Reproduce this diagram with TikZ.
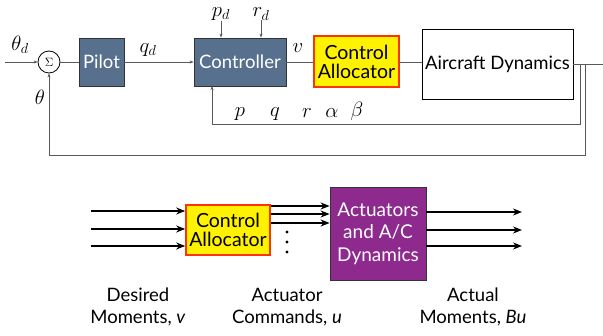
\documentclass[tikz,border=0pt]{standalone}
\usepackage{fontspec}
\setmainfont{Lato}
\usetikzlibrary{arrows.meta,calc}
\definecolor{slate}{HTML}{56708E}
\definecolor{allocred}{HTML}{FF3300}
\definecolor{purp}{HTML}{8E2A8E}
\definecolor{lin}{gray}{0.35}
\tikzset{
  blk/.style={draw=black!80, line width=0.8pt, fill=slate, text=white, inner sep=0pt, font=\fontsize{18.5}{20}\selectfont},
  alloc/.style={draw=allocred, line width=1.6pt, fill=yellow, text=black, inner sep=0pt, align=center, font=\fontsize{19.5}{21}\selectfont},
  plant/.style={draw=black, line width=0.8pt, fill=white, inner sep=0pt, font=\fontsize{18.5}{20}\selectfont},
  act/.style={draw=black!80, line width=0.8pt, fill=purp, text=white, inner sep=0pt, align=center, font=\fontsize{19}{22.5}\selectfont},
  sig/.style={line width=0.6pt, draw=lin},
  sigar/.style={sig, -{Stealth[length=4pt,width=3pt]}},
  fat/.style={line width=1.8pt, -{Stealth[length=9pt,width=7pt]}},
  mlab/.style={inner sep=0pt, font=\fontsize{20}{22}\selectfont},
  captxt/.style={align=center, inner sep=0pt, font=\fontsize{18.5}{21.5}\selectfont},
}
\begin{document}
\begin{tikzpicture}[x=1pt,y=-1pt]
\useasboundingbox (0,0) rectangle (603,336);
% top loop
\coordinate (in) at (5,62);
\node[draw=black, line width=0.8pt, circle, minimum size=22pt, inner sep=0pt, font=\fontsize{13}{13}\selectfont] (sum) at (49,62) {$\Sigma$};
\node[blk, minimum width=45pt, minimum height=48pt] (pilot) at (101.5,62) {Pilot};
\node[blk, minimum width=92pt, minimum height=48pt] (ctrl) at (240,62) {Controller};
\node[alloc, minimum width=85pt, minimum height=51pt] (ca) at (356.5,61.5) {Control\\[-2pt]Allocator};
\node[plant, minimum width=151pt, minimum height=70pt] (ad) at (497.5,64) {Aircraft Dynamics};
\coordinate (out) at (603,64);
\coordinate (f1) at (580,64);
\coordinate (f2) at (585,64);
\coordinate (ctrlin) at (212,86);

\node[mlab] (thd) at (20,45) {$\theta_d$};
\node[mlab] (th) at (40,97) {$\theta$};
\node[mlab] (qd) at (148,50) {$q_d$};
\node[mlab] (pd) at (221,14) {$p_d$};
\node[mlab] (rd) at (261,14) {$r_d$};
\node[mlab] (v) at (298,48) {$v$};
\node[mlab] (lp) at (240,114) {$p$};
\node[mlab] (lq) at (275,114) {$q$};
\node[mlab] (lr) at (307,113) {$r$};
\node[mlab] (la) at (332,113) {$\alpha$};
\node[mlab] (lb) at (357,111) {$\beta$};

\draw[sigar] (in) -- (sum.west);
\draw[sig] (sum.east) -- (pilot.west);
\draw[sigar] (pilot.east) -- (ctrl.west);
\draw[sigar] (pd.south) -- (pd.south |- ctrl.north);
\draw[sigar] (rd.south) -- (rd.south |- ctrl.north);
\draw[sig] (ctrl.east) -- (ca.west |- ctrl.east);
\draw[sig] (ca.east |- ctrl.east) -- (ad.west |- ctrl.east);
\draw[sig] (ad.east) -- (out);
\draw[sigar] (f1) -- ++(0,60) -| (ctrlin);
\draw[sigar] (f2) -- ++(0,91) -| (sum.south);

% bottom
\node[alloc, minimum width=84pt, minimum height=50pt] (ca2) at (228,230) {Control\\[-2pt]Allocator};
\node[act, minimum width=96pt, minimum height=93pt] (acd) at (378,233.5) {Actuators\\and A/C\\Dynamics};
\foreach \y/\n in {211/a,229/b,246/c}{
  \coordinate (s\n) at (91,\y);
  \draw[fat] (s\n) -- (ca2.west |- s\n);
}
\foreach \y/\n in {206/a,214/b,223/c}{
  \coordinate (u\n) at (271,\y);
  \draw[fat] (ca2.east |- u\n) -- (acd.west |- u\n);
}
\foreach \y/\n in {212/a,230/b,246/c}{
  \coordinate (e\n) at (522,\y);
  \draw[fat] (acd.east |- e\n) -- (e\n);
}
\foreach \y/\n in {232/a,242/b,252/c}{
  \fill (287,\y) circle (1.6pt);
}
\node[captxt] (c1) at (138,307) {Desired\\Moments, \textit{v}};
\node[captxt] (c2) at (287,307) {Actuator\\Commands, \textit{u}};
\node[captxt] (c3) at (473,307) {Actual\\Moments, \textit{Bu}};
\end{tikzpicture}
\end{document}
